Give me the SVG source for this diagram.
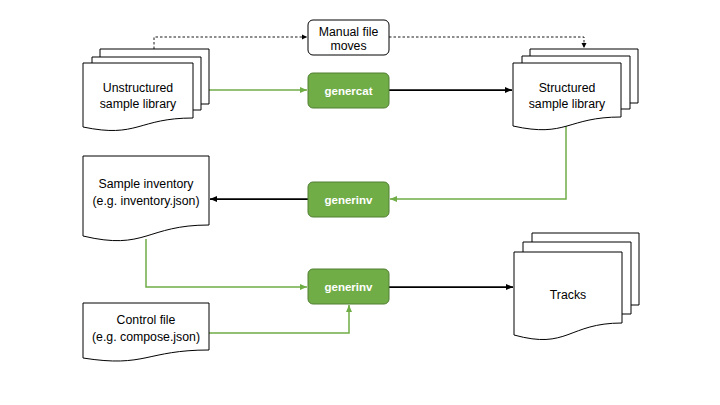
<svg xmlns="http://www.w3.org/2000/svg" width="720" height="405" viewBox="0 0 720 405">
<style>
.doc{fill:#fff;stroke:#000;stroke-width:1}
.box{fill:#fff;stroke:#000;stroke-width:1}
.proc{fill:#70AD47;stroke:#507E32;stroke-width:1}
.t{font-family:"Liberation Sans",Arial,sans-serif;font-size:12.3px;fill:#000;text-anchor:middle}
.pt{font-family:"Liberation Sans",Arial,sans-serif;font-size:11.5px;font-weight:bold;fill:#fff;text-anchor:middle}
.g{fill:none;stroke:#70AD47;stroke-width:1.5}
.k{fill:none;stroke:#000;stroke-width:1.75}
.d{fill:none;stroke:#000;stroke-width:0.9;stroke-dasharray:2.5,2}
</style>
<defs>
<marker id="ag" markerUnits="userSpaceOnUse" markerWidth="8" markerHeight="8" refX="7" refY="4" orient="auto"><path d="M0,1 L7,4 L0,7 Z" fill="#70AD47"/></marker>
<marker id="ak" markerUnits="userSpaceOnUse" markerWidth="8" markerHeight="8" refX="7" refY="4" orient="auto"><path d="M0,1 L7,4 L0,7 Z" fill="#000"/></marker>
<marker id="ad" markerUnits="userSpaceOnUse" markerWidth="6" markerHeight="6" refX="5" refY="3" orient="auto"><path d="M0,0.5 L5,3 L0,5.5 Z" fill="#000"/></marker>
</defs>

<g id="connectors">
<path class="d" d="M154,49 V37 H307" marker-end="url(#ad)"/>
<path class="d" d="M389,37 H584 V48" marker-end="url(#ad)"/>
<path class="g" d="M209,90 H307" marker-end="url(#ag)"/>
<path class="k" d="M389,90 H512" marker-end="url(#ak)"/>
<path class="g" d="M566,126 V199 H390" marker-end="url(#ag)"/>
<path class="k" d="M308,199 H210" marker-end="url(#ak)"/>
<path class="g" d="M146,239 V287 H307" marker-end="url(#ag)"/>
<path class="g" d="M209,333 H349 V305" marker-end="url(#ag)"/>
<path class="k" d="M389,287 H513" marker-end="url(#ak)"/>
</g>

<g id="unstructured">
<path class="doc" d="M100,57 V49 H209 V104 H201"/>
<path class="doc" d="M92,63 V57 H201 V110 H193"/>
<path class="doc" d="M83,63 H193 V118 C138,118 138,138.5 83,127 Z"/>
<text class="t" x="138" y="92">Unstructured</text>
<text class="t" x="138" y="108">sample library</text>
</g>

<g id="manual">
<rect class="box" x="308" y="20" width="81" height="35" rx="5"/>
<text class="t" x="348.5" y="36">Manual file</text>
<text class="t" x="348.5" y="50">moves</text>
</g>

<g id="genercat">
<rect class="proc" x="308" y="73" width="81" height="35" rx="5"/>
<text class="pt" x="348.5" y="95">genercat</text>
</g>

<g id="structured">
<path class="doc" d="M530,56 V49 H638 V103 H630"/>
<path class="doc" d="M522,63 V56 H630 V109 H621"/>
<path class="doc" d="M513,63 H621 V117 C567,117 567,138 513,126 Z"/>
<text class="t" x="567" y="92">Structured</text>
<text class="t" x="567" y="108">sample library</text>
</g>

<g id="generinv1">
<rect class="proc" x="308" y="182" width="81" height="35" rx="5"/>
<text class="pt" x="348.5" y="204">generinv</text>
</g>

<g id="inventory">
<path class="doc" d="M83,156 H209 V225 C146,225 146,251 83,236 Z"/>
<text class="t" x="146" y="188">Sample inventory</text>
<text class="t" x="146" y="205">(e.g. inventory.json)</text>
</g>

<g id="generinv2">
<rect class="proc" x="308" y="269" width="81" height="35" rx="5"/>
<text class="pt" x="348.5" y="291">generinv</text>
</g>

<g id="control">
<path class="doc" d="M83,303 H209 V350 C146,350 146,368 83,358 Z"/>
<text class="t" x="146" y="324">Control file</text>
<text class="t" x="146" y="341">(e.g. compose.json)</text>
</g>

<g id="tracks">
<path class="doc" d="M532,242 V233 H639 V305 H631"/>
<path class="doc" d="M523,252 V242 H631 V314 H622"/>
<path class="doc" d="M514,252 H622 V323 C568,323 568,350 514,335 Z"/>
<text class="t" x="568" y="299">Tracks</text>
</g>
</svg>
